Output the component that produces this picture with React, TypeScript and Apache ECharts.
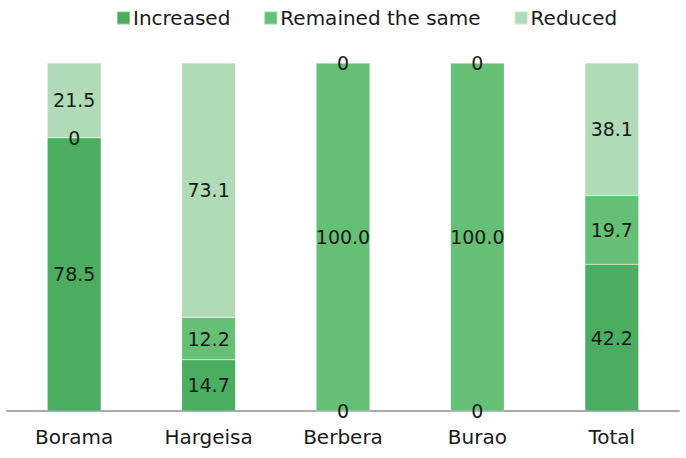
import React, { useEffect, useRef } from "react";
import * as echarts from "echarts";

const categories = ["Borama", "Hargeisa", "Berbera", "Burao", "Total"];
const increased = [78.5, 14.7, 0, 0, 42.2];
const remained = [0, 12.2, 100.0, 100.0, 19.7];
const reduced = [21.5, 73.1, 0, 0, 38.1];
const seriesNames = ["Increased", "Remained the same", "Reduced"];
const colors = ["#4aad5f", "#65bf74", "#b1dbb7"];

const fmt = (v: number) => (v === 0 ? "0" : v.toFixed(1));

export default function App() {
  const ref = useRef<HTMLDivElement>(null);
  useEffect(() => {
    document.body.style.margin = "0";
    if (!ref.current) return;
    const chart = echarts.init(ref.current, null, { renderer: "svg" });
    const font = "'DejaVu Sans', sans-serif";
    const data = [increased, remained, reduced];
    chart.setOption({
      animation: false,
      textStyle: { fontFamily: font },
      legend: {
        top: 3,
        left: 111,
        itemWidth: 13,
        itemHeight: 13,
        itemGap: 33,
        icon: "rect",
        textStyle: { fontSize: 20, color: "#1a1a1a", fontFamily: font, padding: [0, 0, 0, -2] },
        data: seriesNames,
      },
      grid: { left: 7, right: 7, top: 63, bottom: 47, containLabel: false },
      xAxis: {
        type: "category",
        data: categories,
        axisLine: { lineStyle: { color: "#aaaaaa", width: 2 } },
        axisTick: { show: false },
        axisLabel: { fontSize: 20, color: "#1a1a1a", margin: 16, fontFamily: font },
      },
      yAxis: {
        type: "value",
        min: 0,
        max: 100,
        show: false,
        splitLine: { show: false },
      },
      series: seriesNames.map((name, i) => ({
        name,
        type: "bar",
        stack: "total",
        barWidth: "40%",
        data: data[i],
        itemStyle: { color: colors[i], borderColor: "rgba(255,255,255,0.35)", borderWidth: 0.5 },
        label: {
          show: true,
          position: "inside",
          fontSize: 19,
          color: "#1a1a1a",
          fontFamily: font,
          formatter: (p: any) => fmt(p.value),
        },
      })),
    });
    return () => chart.dispose();
  }, []);
  return <div ref={ref} style={{ width: 686, height: 458 }} />;
}
